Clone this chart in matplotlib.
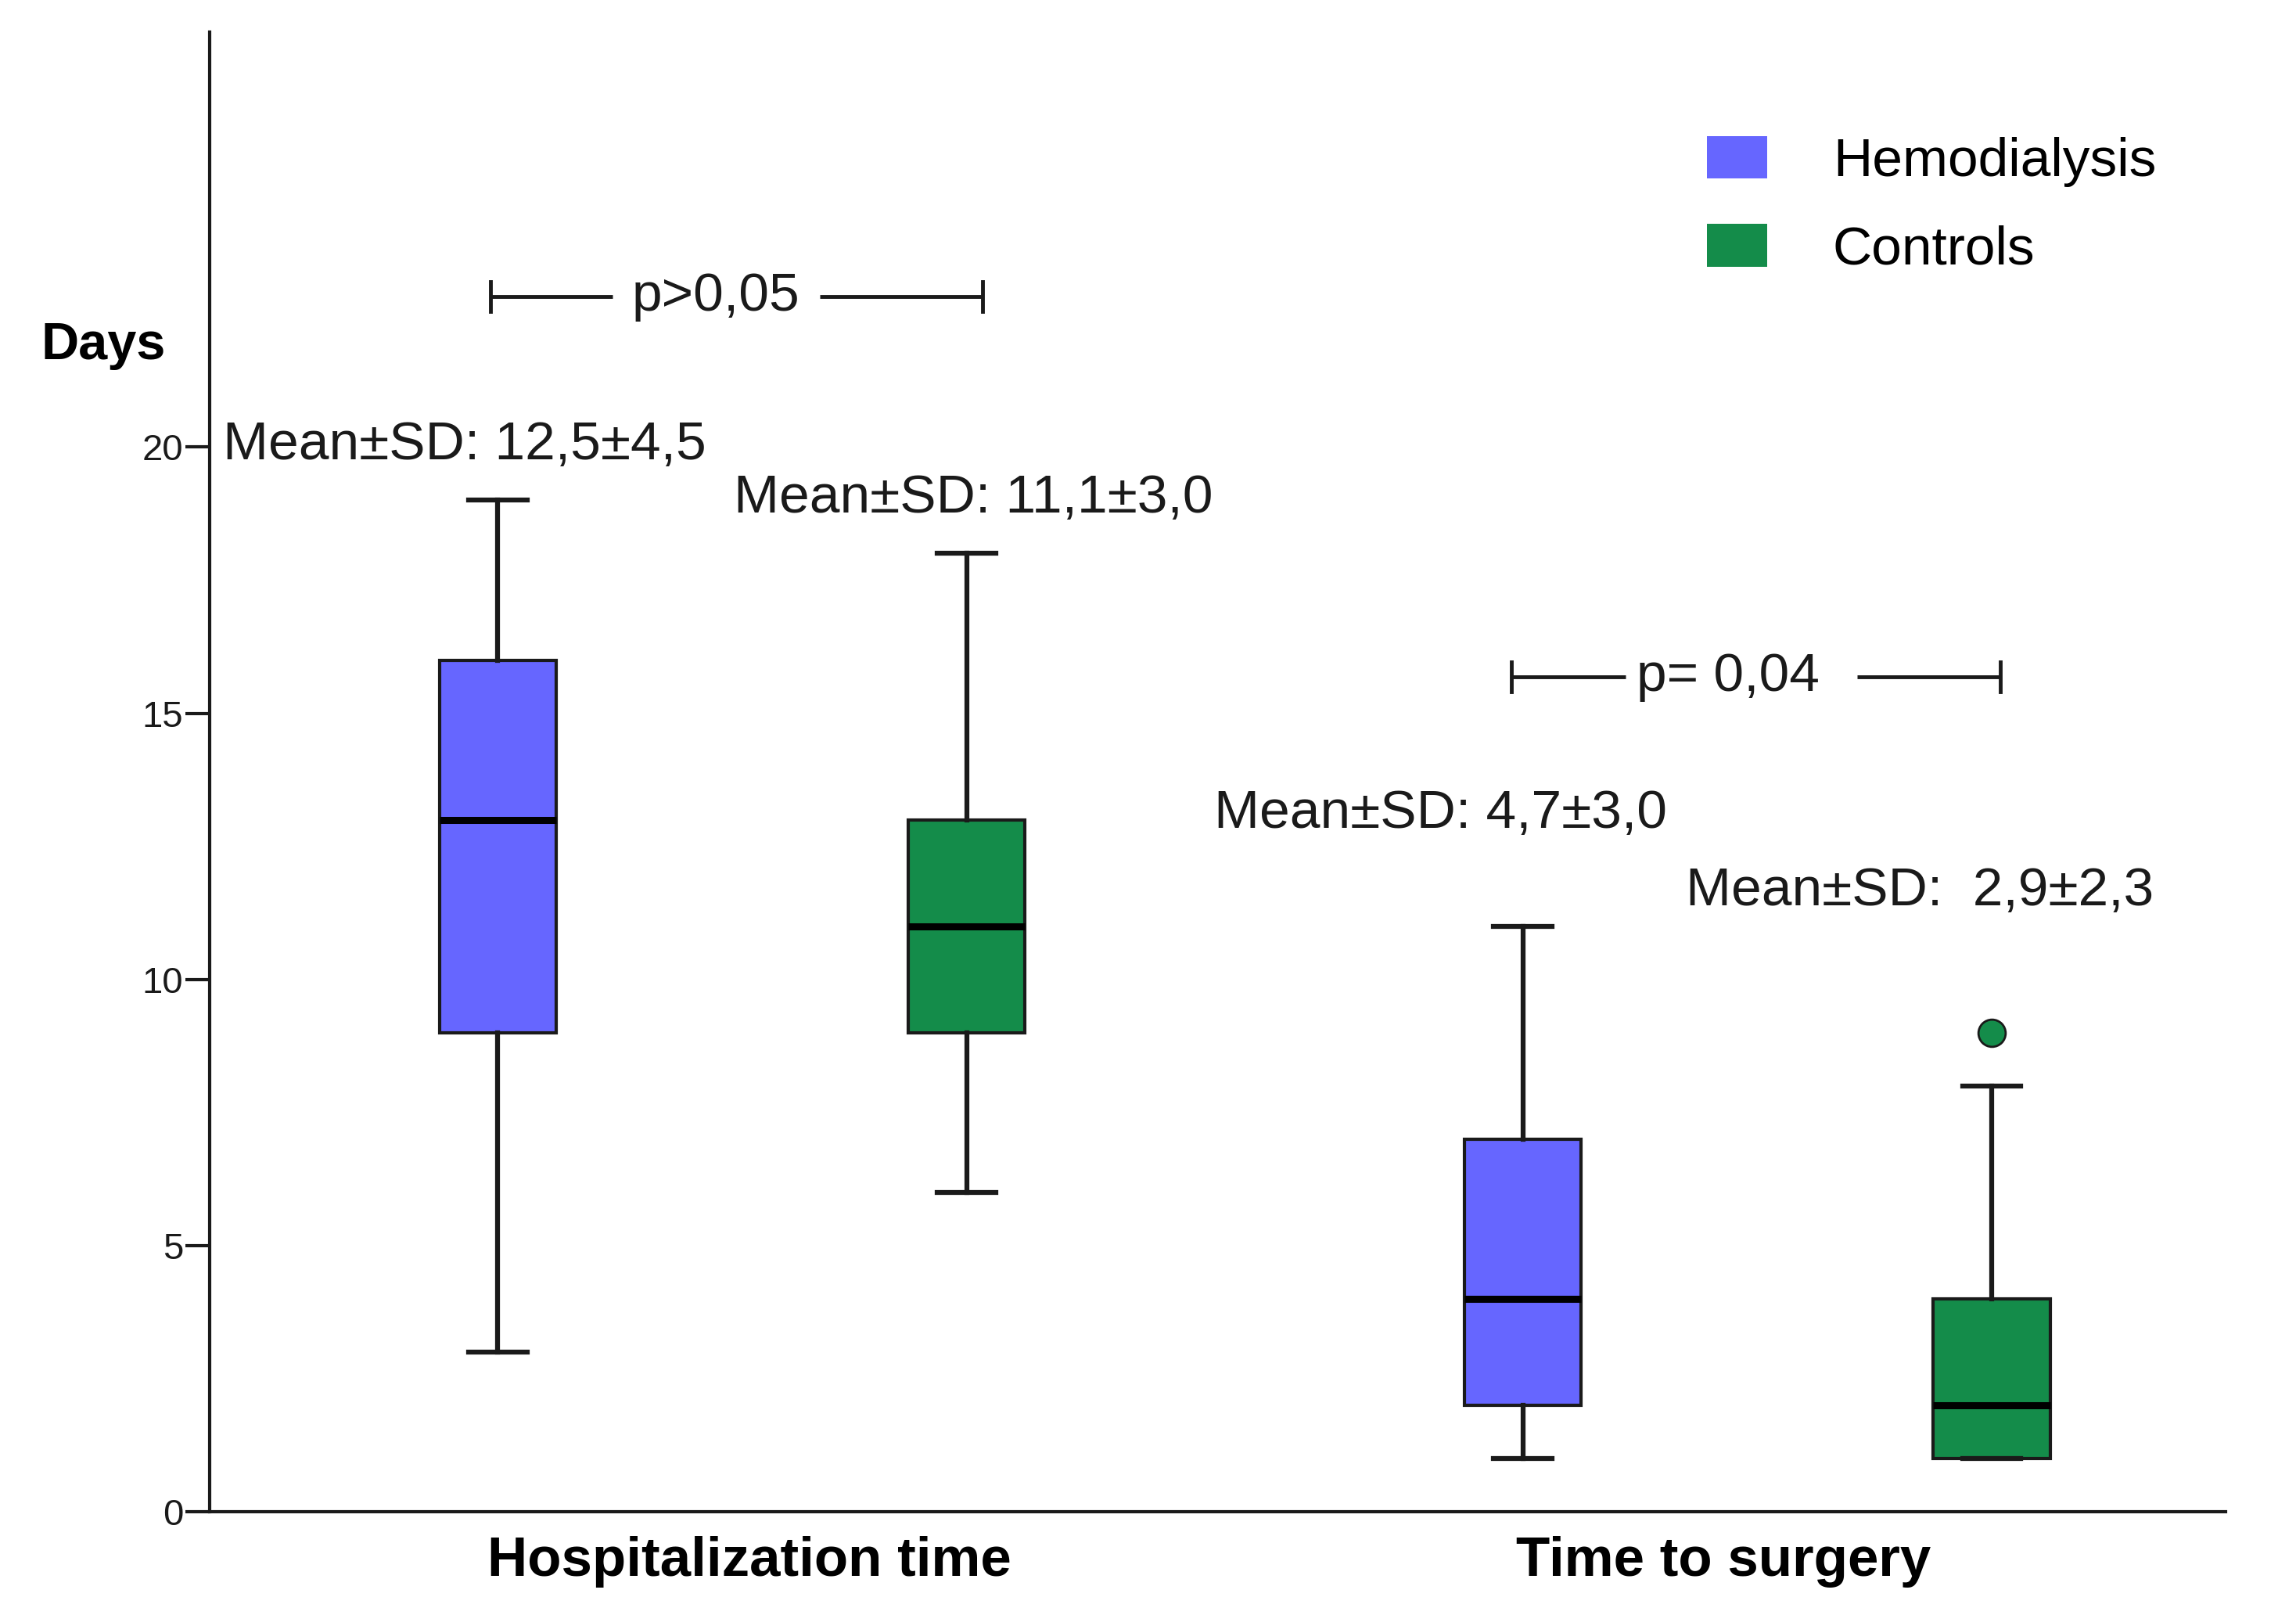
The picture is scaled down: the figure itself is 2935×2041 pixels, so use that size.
import matplotlib
matplotlib.use("Agg")
import matplotlib.pyplot as plt
from matplotlib.patches import Patch

plt.rcParams['font.family'] = ['Liberation Sans', 'DejaVu Sans']

# datos (dias)
grupos = ["Hospitalization time", "Time to surgery"]
series = ["Hemodialysis", "Controls"]
colores = ["#6666FF", "#148C4A"]

# whislo, q1, mediana, q3, whishi por grupo y serie
hemo_stats = [[3, 9, 13, 16, 19], [1, 2, 4, 7, 11]]
ctrl_stats = [[6, 9, 11, 13, 18], [1, 1, 2, 4, 8]]
ctrl_outliers = [[], [9]]
hemo_outliers = [[], []]

medias_texto = [["Mean±SD: 12,5±4,5", "Mean±SD: 11,1±3,0"],
                ["Mean±SD: 4,7±3,0", "Mean±SD:  2,9±2,3"]]
p_texto = ["p>0,05", "p= 0,04"]

fig = plt.figure(figsize=(29.35, 20.41), dpi=100)
ax = fig.add_axes([0.0912, 0.0532, 0.8782, 0.9266])

desp = 0.2286
ancho = 0.114
centros = [1, 2]
negro = "#1a1a1a"

def caja(vals, out):
    return dict(whislo=vals[0], q1=vals[1], med=vals[2], q3=vals[3],
                whishi=vals[4], fliers=out)

for i, c in enumerate(centros):
    for j, (st, out) in enumerate([(hemo_stats[i], hemo_outliers[i]),
                                   (ctrl_stats[i], ctrl_outliers[i])]):
        pos = c - desp if j == 0 else c + desp
        ax.bxp([caja(st, out)], positions=[pos], widths=ancho,
               capwidths=ancho * 0.5, patch_artist=True,
               boxprops=dict(facecolor=colores[j], edgecolor=negro, linewidth=3),
               medianprops=dict(color="black", linewidth=6.5),
               whiskerprops=dict(color=negro, linewidth=4.5),
               capprops=dict(color=negro, linewidth=4.5),
               flierprops=dict(marker="o", markerfacecolor=colores[j],
                               markeredgecolor=negro, markersize=25,
                               markeredgewidth=2))

# textos de media +- DE
pos_medias = [[(0.5029, 20.03), (1.0014, 19.04)],
              [(1.4700, 13.12), (1.9300, 11.66)]]
for i in range(2):
    for j in range(2):
        x, y = pos_medias[i][j]
        ax.text(x, y, medias_texto[i][j], fontsize=50, color=negro,
                ha="left", va="center")

# corchetes de p: extremos, altura, centro del texto, tramos de linea
brackets = [(0.7643, 1.2443, 22.83, 0.9843, [(0.7643, 0.8829), (1.0857, 1.2443)]),
            (1.7600, 2.2371, 15.68, 1.9714, [(1.7600, 1.8714), (2.0971, 2.2371)])]
for k, (x0, x1, y, xt, tramos) in enumerate(brackets):
    ax.text(xt, y, p_texto[k], fontsize=50, color=negro, ha="center", va="center")
    for a, b in tramos:
        ax.plot([a, b], [y, y], color=negro, lw=3.5, solid_capstyle="butt")
    for xe in (x0, x1):
        ax.plot([xe, xe], [y - 0.28, y + 0.28], color=negro, lw=3.5)

ax.set_xlim(0.49, 2.457)
ax.set_ylim(0, 27.79)
ax.set_yticks([0, 5, 10, 15, 20])
ax.tick_params(axis="y", labelsize=34, length=22, width=3, colors=negro, pad=2)
ax.set_xticks([1.017, 1.967])
ax.set_xticklabels(grupos, fontsize=51, fontweight="bold")
ax.tick_params(axis="x", length=0, pad=22)
for s in ["top", "right"]:
    ax.spines[s].set_visible(False)
for s in ["left", "bottom"]:
    ax.spines[s].set_linewidth(3)
    ax.spines[s].set_color(negro)

fig.text(0.0179, 1 - 236 / 1090, "Days", fontsize=48, fontweight="bold",
         ha="left", va="center")

handles = [Patch(facecolor=colores[0], edgecolor="none"),
           Patch(facecolor=colores[1], edgecolor="none")]
fig.legend(handles, series, loc="upper left", bbox_to_anchor=(0.7315, 0.932),
           frameon=False, fontsize=50, handlelength=1.12, handleheight=0.84,
           handletextpad=1.2, labelspacing=0.68, borderpad=0)

fig.savefig("out.png", dpi=100)
